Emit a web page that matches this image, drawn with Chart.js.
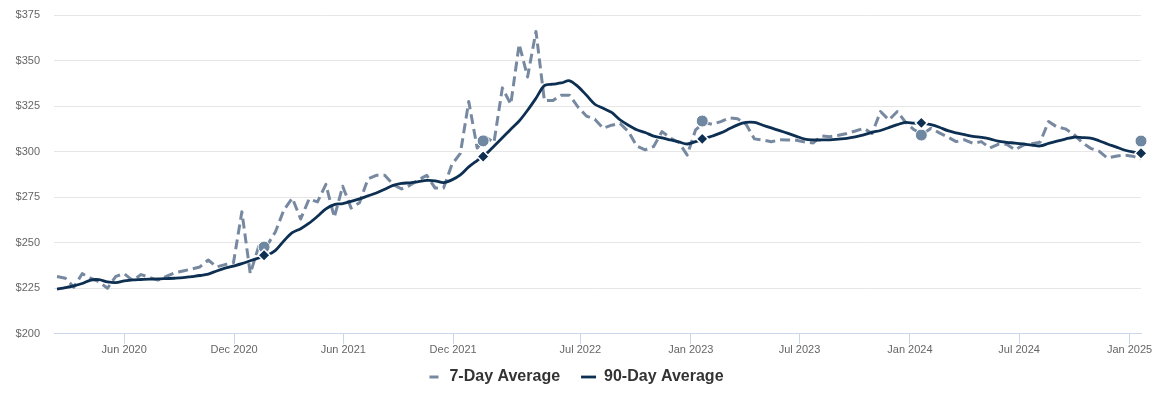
<!DOCTYPE html>
<html>
<head>
<meta charset="utf-8">
<script src="https://cdn.jsdelivr.net/npm/chart.js@4.4.1/dist/chart.umd.min.js"></script>
<style>
  html, body { margin: 0; padding: 0; background: #fff; }
  #wrap { width: 1159px; height: 396px; }
</style>
</head>
<body>
<div id="wrap"><canvas id="priceChart" width="1159" height="396"></canvas></div>
<script>
// one value every two weeks, first one on firstDate
const firstDate = '2020-02-10';
const stepDays = 14;
const axisStart = '2020-02-05';

const sevenDayAvg = [
  231.5, 230.5, 225.6, 233, 230.5, 228.5, 225, 231.5, 233, 229.3,
  232.5, 231, 229.5, 231.5, 233.5, 234.5, 235.5, 236.7, 240.5, 236.7,
  238, 239, 267, 233, 248, 248.5, 256, 268, 274.5, 263,
  274, 272.4, 282, 264, 281, 269, 272, 285, 287, 287,
  282, 279.5, 281.5, 284.5, 287, 280, 280, 293, 299, 327.5,
  302, 308, 305, 335, 326, 359, 341, 366, 328, 328,
  331, 331, 324.5, 319.5, 317.8, 312.8, 314.5, 315.5, 311, 303,
  301, 302.8, 311, 307.5, 305, 298.1, 312, 316, 315, 316.5,
  318.5, 318, 315, 307, 306.4, 305.4, 306.5, 306.4, 306.2, 305.2,
  304.8, 308.6, 308.2, 309, 310, 311.3, 312.8, 310, 322, 317.4,
  322, 316, 312, 309.5, 312.8, 310.3, 308, 305.5, 306.5, 304.5,
  305.5, 302, 304, 304, 301, 303.6, 304.4, 305.2, 316.5, 313.5,
  312.5, 309.5, 305, 301.8, 300.3, 296.5, 297.5, 298.1, 297.5, 296
];

const ninetyDayAvg = [
  224.5, 225.3, 226.3, 227.6, 229.5, 229.7, 228.5, 228.1, 229, 229.6,
  229.8, 230, 230.1, 230.3, 230.5, 230.8, 231.4, 232, 232.8, 234.5,
  236, 237.2, 238.5, 240.1, 241.6, 243.1, 245.8, 251, 255.5, 257.7,
  260.7, 264.5, 268.6, 270.9, 271.5, 272.7, 274.1, 275.7, 277.3, 279.3,
  281.5, 282.6, 282.9, 283.5, 284.2, 284, 283, 284.5, 287.2, 291.6,
  295.1, 298.5, 303, 307.6, 312.3, 316.8, 322.7, 329.3, 336.2, 337,
  337.7, 338.9, 335.7, 331, 326, 323.8, 321.5, 317.5, 314.5, 312,
  310.5, 308.5, 307.5, 306.4, 305.3, 304.2, 305.5, 307, 308.6, 310.3,
  312.5, 314.7, 316, 316, 314.5, 313, 311.5, 310, 308.4, 306.8,
  306.4, 306.4, 306.5, 306.9, 307.3, 308.1, 309.2, 310.6, 311.6, 313.2,
  314.8, 316.1, 315.6, 315.5, 314.8, 313.4, 311.5, 310.3, 309.3, 308.4,
  307.8, 307, 305.7, 305.1, 304.7, 304.2, 303.6, 303.1, 304.5, 305.8,
  306.9, 307.9, 307.7, 307.4, 306, 304.2, 302.6, 300.9, 299.8, 299.1
];

// same day each year
const markerDates = ['2021-01-20', '2022-01-20', '2023-01-20', '2024-01-20', '2025-01-20'];
const circleValues = [247.6, 305.9, 316.8, 309.1, 305.8];
const diamondValues = [243.1, 297.3, 307.0, 315.8, 299.1];

const tickDates = ['2020-06-01', '2020-12-01', '2021-06-01', '2021-12-01', '2022-07-01',
  '2023-01-01', '2023-07-01', '2024-01-01', '2024-07-01', '2025-01-01'];
const tickLabels = ['Jun 2020', 'Dec 2020', 'Jun 2021', 'Dec 2021', 'Jul 2022',
  'Jan 2023', 'Jul 2023', 'Jan 2024', 'Jul 2024', 'Jan 2025'];

const DAY = 86400000;
function dayOf(d) {
  return Math.round((Date.parse(d) - Date.parse(firstDate)) / DAY);
}
function toPoints(values) {
  return values.map((v, i) => ({ x: i * stepDays, y: v }));
}
function markerPoints(values) {
  return values.map((v, i) => ({ x: dayOf(markerDates[i]), y: v }));
}

const lastDay = (sevenDayAvg.length - 1) * stepDays;
const tickDays = tickDates.map(dayOf);
const font = "'Liberation Sans', Arial, sans-serif";

const ctx = document.getElementById('priceChart').getContext('2d');
new Chart(ctx, {
  type: 'line',
  data: {
    datasets: [
      {
        label: '7-Day Average',
        data: toPoints(sevenDayAvg),
        borderColor: '#7789a0',
        backgroundColor: '#7789a0',
        borderWidth: 3,
        borderDash: [10, 5],
        borderJoinStyle: 'round',
        pointRadius: 0,
        tension: 0,
        order: 3
      },
      {
        label: '90-Day Average',
        data: toPoints(ninetyDayAvg),
        borderColor: '#0d2f52',
        backgroundColor: '#0d2f52',
        borderWidth: 2.8,
        borderJoinStyle: 'round',
        pointRadius: 0,
        tension: 0.3,
        order: 2
      },
      {
        label: 'circles',
        data: markerPoints(circleValues),
        showLine: false,
        clip: false,
        pointStyle: 'circle',
        pointRadius: 6,
        backgroundColor: '#6f87a0',
        borderColor: '#ffffff',
        borderWidth: 1,
        order: 1
      },
      {
        label: 'diamonds',
        data: markerPoints(diamondValues),
        showLine: false,
        clip: false,
        pointStyle: 'rectRot',
        pointRadius: 6,
        backgroundColor: '#0d2f52',
        borderColor: '#ffffff',
        borderWidth: 1.5,
        order: 0
      }
    ]
  },
  options: {
    responsive: false,
    animation: false,
    layout: { autoPadding: false, padding: { left: 0, right: 18, top: 15, bottom: 1 } },
    plugins: {
      tooltip: { enabled: false },
      legend: {
        position: 'bottom',
        labels: {
          usePointStyle: true,
          pointStyle: 'line',
          pointStyleWidth: 24,
          padding: 12,
          color: '#333333',
          font: { family: font, size: 16, weight: 'bold' },
          sort: (a, b) => a.datasetIndex - b.datasetIndex,
          generateLabels(chart) {
            const items = Chart.defaults.plugins.legend.labels.generateLabels(chart);
            return items.filter(it => it.datasetIndex < 2).map(it => {
              // symbol box is 24px wide; only its right part is visible
              if (it.datasetIndex === 0) {
                it.lineDash = [9, 13];
                it.lineDashOffset = 10;
              } else {
                it.lineDash = [15, 30];
                it.lineDashOffset = 36;
              }
              return it;
            });
          }
        }
      }
    },
    scales: {
      x: {
        type: 'linear',
        min: dayOf(axisStart),
        max: lastDay,
        afterBuildTicks(scale) {
          scale.ticks = tickDays.map(v => ({ value: v }));
        },
        ticks: {
          autoSkip: false,
          maxRotation: 0,
          padding: 0,
          color: '#666666',
          font: { family: font, size: 11 },
          callback: (v, i) => tickLabels[i]
        },
        grid: {
          drawOnChartArea: false,
          drawTicks: true,
          tickLength: 10,
          color: '#ccd6eb'
        },
        border: { display: true, color: '#ccd6eb' }
      },
      y: {
        min: 200,
        max: 375,
        afterFit(scale) {
          scale.width = 54;
          scale.paddingTop = 0;
        },
        ticks: {
          stepSize: 25,
          padding: 14,
          color: '#666666',
          font: { family: font, size: 11 },
          callback: v => '$' + v
        },
        grid: { color: '#e6e6e6', drawTicks: false },
        border: { display: false }
      }
    }
  }
});
</script>
</body>
</html>
